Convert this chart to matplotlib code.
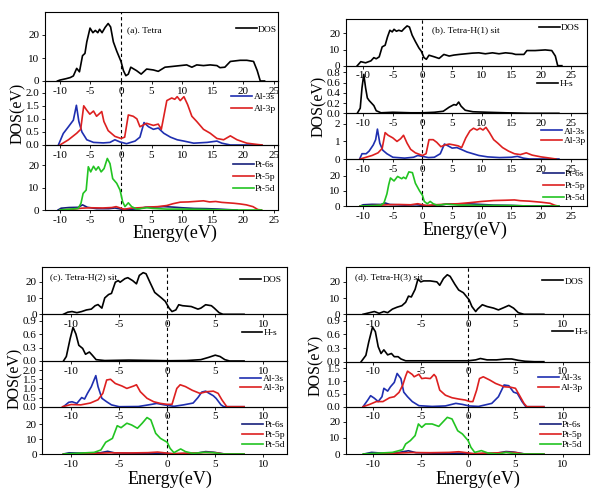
import numpy as np
import matplotlib
matplotlib.use('Agg')
from matplotlib import pyplot as plt
from matplotlib.ticker import FormatStrFormatter

# ---- data: (energy, value) pairs ----
# (a) Tetra
a_dos = [(-10.4,0),(-10,0.4),(-9,1.0),(-8.3,1.5),(-7.8,2.2),(-7.25,5.5),(-6.8,4),(-6.3,11),(-5.9,12),(-5.6,17),
         (-5.07,23),(-4.6,21),(-4.2,22),(-3.8,21),(-3.5,22.5),(-3.1,21),(-2.6,23.3),(-2.1,25),(-1.7,23.5),
         (-1.25,17),(-0.7,13),(0,8.5),(0.4,4.5),(0.8,2.3),(1.2,3),(1.6,6),(2.55,4.5),(3.3,3),(4.2,5.2),
         (5.3,4.8),(6.1,4.2),(7.2,6),(8.3,6.3),(9.7,6.7),(10.75,7),(11.6,6),(12.4,7),(13.5,6.7),(14.6,7),
         (15.7,6.7),(16.2,5.8),(17,6),(17.9,8.5),(19.5,9),(20.6,9),(21.7,8.5),(22.3,4.5),(22.8,0),(23.5,0)]
a_al3s = [(-10.25,0),(-9.45,0.44),(-8.6,0.7),(-7.8,0.95),(-7.3,1.52),(-6.9,0.9),(-6.4,0.5),(-5.6,0.2),
          (-4.5,0.1),(-2.9,0.08),(-1.8,0.1),(-1.0,0.2),(-0.2,0.12),(0.9,0.05),(2.3,0.15),(3.1,0.3),(3.77,0.86),
          (4.5,0.7),(5.3,0.6),(6.1,0.65),(7.0,0.45),(8.1,0.3),(9.2,0.2),(10.3,0.15),(11.9,0.07),(14.1,0.1),
          (15.7,0.15),(16.5,0.07),(17.9,0),(23,0)]
a_al3p = [(-10,0),(-8.6,0.2),(-7.25,0.45),(-6.6,0.6),(-6.1,1.5),(-5.6,1.33),(-5.1,1.18),(-4.5,1.3),(-4.0,1.1),
          (-3.15,1.28),(-2.8,0.9),(-2.1,0.55),(-1.0,0.33),(0,0.25),(0.6,0.3),(1.2,1.15),(2.0,1.1),(2.6,1.0),
          (3.1,0.7),(4.2,0.83),(5.3,0.75),(6.1,0.8),(6.6,0.6),(7.5,1.7),(8.3,1.8),(8.8,1.75),(9.2,1.85),
          (9.7,1.7),(10.3,1.85),(10.9,1.55),(11.6,1.1),(12.4,0.9),(13.5,0.6),(14.6,0.45),(15.7,0.25),
          (16.8,0.2),(17.9,0.35),(19.0,0.2),(20.6,0.07),(22.3,0.02),(23.1,0)]
a_pt6s = [(-10.3,0),(-9.8,0.8),(-8.5,1.1),(-7,1.2),(-6.3,2.3),(-5.5,1.2),(-4,0.6),(-2,0.6),(-1,0.9),(0,0.4),
          (1,0.2),(3,0.6),(4,1.2),(5.5,1.3),(7,1.5),(8.5,1.3),(10,1.0),(12,0.7),(14,0.6),(16,0.4),(18,0.1),(19,0)]
a_pt5p = [(-10,0),(-8,0.3),(-6.5,0.8),(-5,1.0),(-3,0.9),(-1.5,1.1),(-0.8,1.5),(0,0.8),(0.5,0.3),(1.5,0.8),
          (3,1.0),(4.5,1.3),(6,1.5),(7.5,2.0),(8.5,2.8),(9.7,3.5),(11,3.6),(12,3.8),(13.5,4.1),(14.5,3.6),
          (15.5,3.8),(16.5,3.4),(17.5,3.2),(18.5,3.0),(19.5,2.7),(20.5,2.3),(21.6,1.5),(22.4,0.2),(23,0)]
a_pt5d = [(-10,0),(-7.0,0.7),(-6.55,3),(-6.2,7.4),(-5.7,8.9),(-5.35,19.3),(-4.96,17),(-4.5,19.5),(-4.1,17.8),
          (-3.7,19.3),(-3.25,17),(-2.77,18.5),(-2.24,23),(-1.8,20.7),(-1.36,14),(-0.7,11.9),(-0.16,8.9),
          (0.27,3.7),(0.65,1.5),(1.2,3.2),(1.74,1.5),(2.6,0.4),(4.2,1.0),(5.3,0.7),(7.5,0.4),(10.2,0.4),
          (13,0.3),(15.7,0.1),(18.5,0),(23,0)]

# (b) Tetra-H(1) sit
b_dos = [(-11,0),(-10.4,2.5),(-9.6,1.8),(-8.7,3),(-8.2,5),(-7.8,4.3),(-7.3,5.5),(-6.8,11.7),(-6.3,12.7),
         (-5.9,17.9),(-5.5,22),(-5.1,21),(-4.8,22.6),(-4.4,21.4),(-4.0,22),(-3.5,21.4),(-3.1,23),(-2.6,24.7),
         (-2.2,24),(-1.75,19),(-1.2,15),(-0.6,11),(-0.2,9),(0.25,5),(0.65,4),(1.1,6.5),(2.0,5.5),(2.8,4.5),
         (3.6,7),(4.5,6),(5.3,6.6),(6.2,7),(7.3,7.4),(8.4,7.8),(9.5,8),(10.6,7.4),(11.8,8),(12.9,7.4),
         (14.0,8),(15.1,7.6),(15.7,7),(17.1,7),(17.6,9.4),(19,9.4),(20.7,9.8),(21.8,9.4),(22.4,6),(22.8,0),(23.5,0)]
b_hs = [(-11,0),(-10.5,0.1),(-10.2,0.5),(-9.9,0.76),(-9.6,0.5),(-9.3,0.3),(-9.0,0.25),(-8.6,0.2),(-8.2,0.15),
        (-7.8,0.05),(-7.0,0.01),(-5,0.02),(-2,0.01),(0,0.01),(2,0.02),(3.5,0.04),(4.5,0.12),(5.3,0.17),
        (5.7,0.16),(6.1,0.22),(6.5,0.14),(7.2,0.06),(8.5,0.03),(11,0.02),(14,0.01),(16,0.005),(18,0),(23,0)]
b_al3s = [(-10.6,0),(-10.2,0.3),(-9.5,0.3),(-9.0,0.45),(-8.3,0.8),(-7.9,1.1),(-7.6,1.7),(-7.2,0.9),(-6.7,0.5),
          (-6.0,0.3),(-5.0,0.1),(-3,0.05),(-1.5,0.1),(-0.8,0.2),(0,0.15),(1,0.08),(2,0.1),(3,0.3),(3.7,0.85),
          (4.3,0.75),(5,0.62),(5.8,0.65),(6.5,0.55),(7.5,0.4),(8.5,0.3),(9.5,0.2),(11,0.12),(13,0.08),
          (15,0.1),(16,0.15),(17,0.05),(18,0),(23,0)]
b_al3p = [(-10.5,0),(-9.5,0.1),(-8.5,0.2),(-7.5,0.35),(-6.8,0.6),(-6.3,1.5),(-5.8,1.35),(-5.0,1.2),(-4.3,1.0),
          (-3.7,1.15),(-3.2,1.35),(-2.6,0.9),(-2.0,0.55),(-1.2,0.35),(0,0.2),(0.6,0.3),(1.1,1.1),(1.8,1.1),
          (2.4,0.95),(3.1,0.7),(3.8,0.8),(4.5,0.85),(5.3,0.8),(6.0,0.75),(6.6,0.65),(7.3,1.2),(8.0,1.6),
          (8.6,1.75),(9.2,1.65),(9.7,1.75),(10.2,1.65),(10.7,1.8),(11.3,1.5),(12.0,1.1),(12.7,0.9),
          (13.5,0.65),(14.5,0.45),(15.5,0.3),(16.5,0.25),(17.5,0.35),(18.5,0.22),(20,0.12),(21.5,0.05),(22.5,0)]
b_pt6s = [(-10.5,0),(-10,0.8),(-8.5,1.1),(-7,1.0),(-6.3,2.0),(-5.5,1.0),(-3,0.6),(-1,0.8),(0,0.4),(1,0.2),
          (3,0.6),(4,1.3),(6,1.4),(8,1.4),(10,1.0),(12,0.6),(15,0.4),(17,0.1),(18,0),(23,0)]
b_pt5p = [(-10.5,0),(-8,0.3),(-6,0.8),(-4,1.0),(-2,0.8),(-0.8,1.5),(0,0.8),(0.6,0.3),(2,0.8),(4,1.2),(6,1.5),
          (8,2.2),(10,3.0),(12,3.6),(14,3.8),(15.5,4.0),(16.5,3.5),(18,3.2),(20,2.5),(21.5,1.8),(22.3,0.5),(22.8,0)]
b_pt5d = [(-10.5,0),(-8,0.3),(-7,0.6),(-6.5,2),(-6.0,8),(-5.7,14),(-5.4,18.5),(-4.8,16.5),(-4.2,19.5),(-3.5,18),
          (-3.2,19),(-2.8,18),(-2.3,22.5),(-1.7,22),(-1.2,15),(-0.5,10),(0,7),(0.3,3),(0.8,1.5),(1.3,3),
          (1.8,1.5),(2.5,0.5),(4,1.2),(6,0.6),(10,0.4),(15,0.3),(18,0),(23,0)]

# (c) Tetra-H(2) sit
c_dos = [(-10.8,0),(-10.35,1.3),(-9.9,1.7),(-9.4,1.0),(-8.9,1.7),(-8.4,2.7),(-7.9,3.2),(-7.5,5.3),(-7.2,6),
         (-6.8,3.8),(-6.5,10.1),(-6.1,12.2),(-5.8,12.9),(-5.4,19.8),(-5.1,20.8),(-4.9,19.8),(-4.4,22),
         (-4.1,22.6),(-3.6,20.8),(-3.2,18.8),(-2.9,24),(-2.5,25.7),(-2.2,25),(-1.8,19.8),(-1.3,13.5),
         (-0.6,10.1),(-0.2,8.0),(0.2,3.8),(0.5,1.7),(0.9,2.7),(1.2,5.9),(1.6,5.3),(2.5,4.8),(3.2,3.2),
         (3.5,3.8),(4.0,5.9),(4.6,5.3),(4.9,3.8),(5.4,1.0),(5.8,0),(8,0)]
c_hs = [(-10.8,0),(-10.5,0.1),(-10.1,0.5),(-9.8,0.75),(-9.5,0.6),(-9.2,0.35),(-8.8,0.28),(-8.5,0.15),(-8.1,0.2),
        (-7.8,0.13),(-7.4,0.03),(-6.5,0.01),(-4,0.02),(-1,0.01),(0,0.005),(2,0.01),(3.5,0.03),(4.3,0.08),
        (5.0,0.13),(5.5,0.1),(6,0.03),(6.5,0),(8,0)]
c_al3s = [(-10.8,0),(-10.25,0.24),(-9.9,0.27),(-9.4,0.18),(-8.9,0.5),(-8.6,0.42),(-8.3,0.73),(-7.9,1.09),
          (-7.43,1.7),(-7.2,1.1),(-6.8,0.46),(-6.3,0.27),(-5.8,0.1),(-5,0),(-3,0.01),(-1.6,0.13),(-1.1,0.18),
          (-0.3,0.1),(0.7,0.02),(1.7,0.1),(2.7,0.2),(3.2,0.5),(3.6,0.8),(4.0,0.85),(4.4,0.72),(4.8,0.6),
          (5.1,0.45),(5.6,0.1),(5.9,0),(8,0)]
c_al3p = [(-10.9,0),(-10.0,0.12),(-9.0,0.1),(-8.0,0.2),(-7.2,0.38),(-6.7,0.73),(-6.3,1.46),(-5.9,1.5),
          (-5.4,1.27),(-4.7,1.13),(-4.2,1.0),(-3.5,1.13),(-3.2,1.2),(-2.8,0.82),(-2.1,0.46),(-1.4,0.27),
          (-0.7,0.18),(0,0.13),(0.5,0.13),(1.0,1.0),(1.35,1.2),(1.9,1.1),(2.6,0.9),(3.4,0.73),(4.1,0.82),
          (4.8,0.85),(5.3,0.73),(5.7,0.37),(6.2,0),(8,0)]
c_pt6s = [(-10.8,0),(-10.2,0.8),(-9,0.6),(-7,0.8),(-6.2,1.8),(-5.5,0.8),(-3,0.4),(-1,0.5),(0,0.3),(1,0.1),
          (3,0.5),(4,1.6),(4.8,1.2),(5.5,0.5),(6,0),(8,0)]
c_pt5p = [(-10.8,0),(-8,0.3),(-6,0.8),(-4,0.7),(-2,0.9),(-1,1.3),(0,0.6),(0.5,0.2),(1.5,0.5),(3,0.7),(4,1.0),
          (5,0.9),(5.8,0.1),(6.2,0),(8,0)]
c_pt5d = [(-10.8,0),(-7.6,1.1),(-6.9,2.7),(-6.4,7.9),(-5.7,10.5),(-5.2,19),(-4.8,17.7),(-4.2,20.7),(-3.7,19.5),
          (-3.1,17.3),(-2.6,20.7),(-2.1,24.5),(-1.7,22.9),(-1.2,13.9),(-0.7,10.5),(0,7.9),(0.3,3.8),(0.7,0.9),
          (1.4,3.4),(1.9,1.6),(2.7,0.4),(3.8,1.1),(4.8,0.9),(5.7,0),(8,0)]

# (d) Tetra-H(3) sit
d_dos = [(-11.1,0),(-10.4,1.0),(-9.9,1.7),(-9.4,0.6),(-8.9,1.7),(-8.5,1.0),(-8.0,3.2),(-7.5,4.4),(-7.0,5.3),
         (-6.6,7.4),(-6.3,11.2),(-6.0,10.7),(-5.6,15.4),(-5.3,21.7),(-5.0,20),(-4.7,20.6),(-4.0,20.6),
         (-3.3,20),(-3.0,17.9),(-2.6,22.1),(-2.2,24.4),(-1.9,23.4),(-1.4,18.5),(-1.0,15),(-0.5,13.3),
         (0.1,9),(0.4,4.8),(0.8,1.7),(1.0,3.2),(1.5,5.9),(2.0,4.8),(2.7,3.8),(3.2,2.7),(3.8,4.2),(4.3,5.5),
         (4.8,3.8),(5.3,1.0),(5.9,0),(8,0)]
d_hs = [(-11.3,0),(-10.8,0.14),(-10.5,0.43),(-10.1,0.76),(-9.8,0.66),(-9.5,0.33),(-9.2,0.18),(-8.9,0.26),
        (-8.5,0.15),(-8.1,0.18),(-7.8,0.11),(-7.4,0.11),(-7.1,0.06),(-6.6,0.02),(-5,0.02),(-2,0.02),(0,0.02),
        (0.8,0.04),(1.3,0.07),(2,0.04),(3,0.04),(4,0.06),(4.6,0.06),(5.3,0.03),(6,0.01),(7,0),(8,0)]
d_al3s = [(-11.1,0),(-10.6,0.26),(-10.3,0.43),(-9.9,0.33),(-9.5,0.2),(-9.1,0.39),(-8.9,0.72),(-8.5,0.61),
          (-8.2,0.78),(-7.8,0.95),(-7.5,1.3),(-7.1,1.1),(-6.8,0.57),(-6.4,0.39),(-5.9,0.2),(-5.2,0.04),
          (-3.8,0.01),(-2.4,0.03),(-1.3,0.13),(-0.6,0.09),(0.1,0.03),(1.1,0.01),(2.5,0.13),(3.2,0.39),
          (3.8,0.85),(4.3,0.82),(4.8,0.57),(5.2,0.52),(5.7,0.2),(6.1,0),(8,0)]
d_al3p = [(-11.1,0),(-10.4,0.09),(-9.7,0.2),(-9.0,0.2),(-8.3,0.35),(-7.8,0.39),(-7.3,0.56),(-6.9,0.85),
          (-6.6,1.2),(-6.4,1.39),(-5.9,1.26),(-5.7,1.17),(-5.2,1.27),(-4.9,1.1),(-4.5,1.12),(-4.0,1.1),
          (-3.6,1.26),(-3.4,1.17),(-3.0,0.65),(-2.4,0.45),(-1.7,0.35),(-1.0,0.3),(-0.3,0.26),(0.2,0.2),
          (0.5,0.2),(0.9,0.65),(1.2,1.1),(1.6,1.17),(2.3,1.04),(2.9,0.91),(3.8,0.78),(4.5,0.76),(5.0,0.72),
          (5.4,0.46),(5.9,0.13),(6.2,0),(8,0)]
d_pt6s = [(-11,0),(-10.2,1.0),(-9,0.5),(-7.5,0.8),(-6.3,2.0),(-5.5,0.8),(-3,0.4),(-1,0.5),(0,0.3),(1,0.1),
          (3,0.5),(4,1.5),(4.8,1.2),(5.5,0.5),(6,0),(8,0)]
d_pt5p = [(-11,0),(-8,0.4),(-6,0.9),(-4,0.8),(-2,1.0),(-1,1.4),(0,0.7),(0.5,0.2),(1.5,0.5),(3,0.7),(4,1.0),
          (5,0.9),(5.8,0.1),(6.2,0),(8,0)]
d_pt5d = [(-11.1,0),(-8.0,1.0),(-6.9,2.7),(-6.6,6.2),(-6.1,8.3),(-5.6,11.4),(-5.25,18.6),(-4.9,16.5),(-4.5,18.6),
          (-3.8,18.6),(-3.1,17.1),(-2.7,19.6),(-2.2,22.7),(-1.7,21.7),(-1.1,14.4),(-0.6,12.4),(0,8.3),(0.3,4.1),
          (0.7,1.0),(1.4,2.1),(2.1,0.6),(3.2,0),(4.0,1.0),(4.7,0.4),(5.4,0),(8,0)]

BLK, BLU, RED, GRN, NAVY = 'black', '#1f2fb0', '#dd2020', '#22c422', '#16207c'
plt.rcParams['font.family'] = ['Liberation Serif', 'DejaVu Serif']
plt.rcParams['axes.unicode_minus'] = False  # plain hyphen minus like the original
fig = plt.figure(figsize=(6.02, 4.95), dpi=100)
W, H = 602.0, 495.0
FS = 8     # tick labels
LFS = 6.8  # legends and panel titles


def stack(left, right, edges, xlim, xticks):
    # one Origin-like stack of layers sharing the energy axis, edges in pixels from the top
    axs = []
    for top, bot in zip(edges[:-1], edges[1:]):
        ax = fig.add_axes([left / W, 1 - bot / H, (right - left) / W, (bot - top) / H])
        ax.patch.set_visible(False)
        ax.set_xlim(*xlim)
        ax.set_xticks(xticks)
        ax.tick_params(labelsize=FS, length=2.5, width=0.6, pad=1.5, direction='out')
        for s in ax.spines.values():
            s.set_linewidth(0.8)
        ax.axvline(0, color='k', ls=(0, (3, 2.5)), lw=0.8)
        axs.append(ax)
    return axs


def curve(ax, pts, color, label):
    e, v = np.array(pts).T
    ax.plot(e, v, color=color, lw=1.2, label=label)


def leg(ax, x, y, ls=0.35):
    ax.legend(loc='center right', bbox_to_anchor=(x, y), frameon=False, fontsize=LFS, handlelength=2.2,
              handletextpad=0.15, borderpad=0, borderaxespad=0, labelspacing=ls)


def ylim_ticks(ax, top, ticks, fmt=None):
    ax.set_ylim(0, top)
    ax.set_yticks(ticks)
    if fmt:
        ax.yaxis.set_major_formatter(FormatStrFormatter(fmt))


xt_long = [-10, -5, 0, 5, 10, 15, 20, 25]
xt_short = [-10, -5, 0, 5, 10]

# (a)
a1, a2, a3 = stack(45, 278, [12, 81, 145, 210], (-12.44, 25.7), xt_long)
curve(a1, a_dos, BLK, 'DOS')
curve(a2, a_al3s, BLU, 'Al-3s'); curve(a2, a_al3p, RED, 'Al-3p')
curve(a3, a_pt6s, NAVY, 'Pt-6s'); curve(a3, a_pt5p, RED, 'Pt-5p'); curve(a3, a_pt5d, GRN, 'Pt-5d')
ylim_ticks(a1, 30, [0, 10, 20]); ylim_ticks(a2, 2.45, [0, 0.5, 1, 1.5, 2], '%.1f'); ylim_ticks(a3, 29, [0, 10, 20])
leg(a1, 0.996, 0.75); leg(a2, 0.99, 0.66); leg(a3, 0.99, 0.51)
a1.text(0.353, 0.74, '(a). Tetra', transform=a1.transAxes, fontsize=LFS, va='center')

# (b)
b1, b2, b3, b4 = stack(345.7, 587, [19, 65.7, 113.3, 159, 206], (-12.95, 27.74), xt_long)
curve(b1, b_dos, BLK, 'DOS')
curve(b2, b_hs, BLK, 'H-s')
curve(b3, b_al3s, BLU, 'Al-3s'); curve(b3, b_al3p, RED, 'Al-3p')
curve(b4, b_pt6s, NAVY, 'Pt-6s'); curve(b4, b_pt5p, RED, 'Pt-5p'); curve(b4, b_pt5d, GRN, 'Pt-5d')
ylim_ticks(b1, 29, [0, 10, 20]); ylim_ticks(b2, 0.93, [0, 0.2, 0.4, 0.6, 0.8], '%.1f')
ylim_ticks(b3, 2.6, [0, 1, 2]); ylim_ticks(b4, 31, [0, 10, 20])
leg(b1, 0.971, 0.81); leg(b2, 0.943, 0.62); leg(b3, 0.995, 0.5, 0.1); leg(b4, 0.995, 0.43)
b1.text(0.356, 0.76, '(b). Tetra-H(1) sit', transform=b1.transAxes, fontsize=LFS, va='center')

# (c)
c1, c2, c3, c4 = stack(42.3, 287.3, [267.3, 314.3, 361, 406.7, 454], (-13.0, 12.5), xt_short)
curve(c1, c_dos, BLK, 'DOS')
curve(c2, c_hs, BLK, 'H-s')
curve(c3, c_al3s, BLU, 'Al-3s'); curve(c3, c_al3p, RED, 'Al-3p')
curve(c4, c_pt6s, NAVY, 'Pt-6s'); curve(c4, c_pt5p, RED, 'Pt-5p'); curve(c4, c_pt5d, GRN, 'Pt-5d')
ylim_ticks(c1, 29, [0, 10, 20]); ylim_ticks(c2, 1.04, [0, 0.3, 0.6, 0.9], '%.1f')
ylim_ticks(c3, 2.5, [0, 0.5, 1, 1.5, 2], '%.1f'); ylim_ticks(c4, 31.8, [0, 10, 20])
leg(c1, 0.977, 0.73); leg(c2, 0.96, 0.6); leg(c3, 0.99, 0.51, 0.1); leg(c4, 0.99, 0.4, 0.15)
c1.text(0.031, 0.79, '(c). Tetra-H(2) sit', transform=c1.transAxes, fontsize=LFS, va='center')

# (d)
d1, d2, d3, d4 = stack(346, 589.3, [267.3, 314.3, 361.7, 406.7, 454], (-12.9, 12.8), xt_short)
curve(d1, d_dos, BLK, 'DOS')
curve(d2, d_hs, BLK, 'H-s')
curve(d3, d_al3s, BLU, 'Al-3s'); curve(d3, d_al3p, RED, 'Al-3p')
curve(d4, d_pt6s, NAVY, 'Pt-6s'); curve(d4, d_pt5p, RED, 'Pt-5p'); curve(d4, d_pt5d, GRN, 'Pt-5d')
ylim_ticks(d1, 29, [0, 10, 20]); ylim_ticks(d2, 1.04, [0, 0.3, 0.6, 0.9], '%.1f')
ylim_ticks(d3, 1.76, [0, 0.5, 1, 1.5], '%.1f'); ylim_ticks(d4, 29.3, [0, 10, 20])
leg(d1, 0.975, 0.70); leg(d2, 0.995, 0.63); leg(d3, 0.973, 0.53, 0.2); leg(d4, 0.973, 0.41, 0.15)
d1.text(0.037, 0.79, '(d). Tetra-H(3) sit', transform=d1.transAxes, fontsize=LFS, va='center')

# axis titles placed in figure pixels
for x, y in [(18, 113), (319, 106), (15, 378), (316, 365)]:
    fig.text(x / W, 1 - y / H, 'DOS(eV)', rotation=90, ha='center', va='center', fontsize=11.5)
for x, y in [(175, 233), (465, 230), (170, 479), (478, 479)]:
    fig.text(x / W, 1 - y / H, 'Energy(eV)', ha='center', va='center', fontsize=13)

fig.savefig('out.png', dpi=100)
